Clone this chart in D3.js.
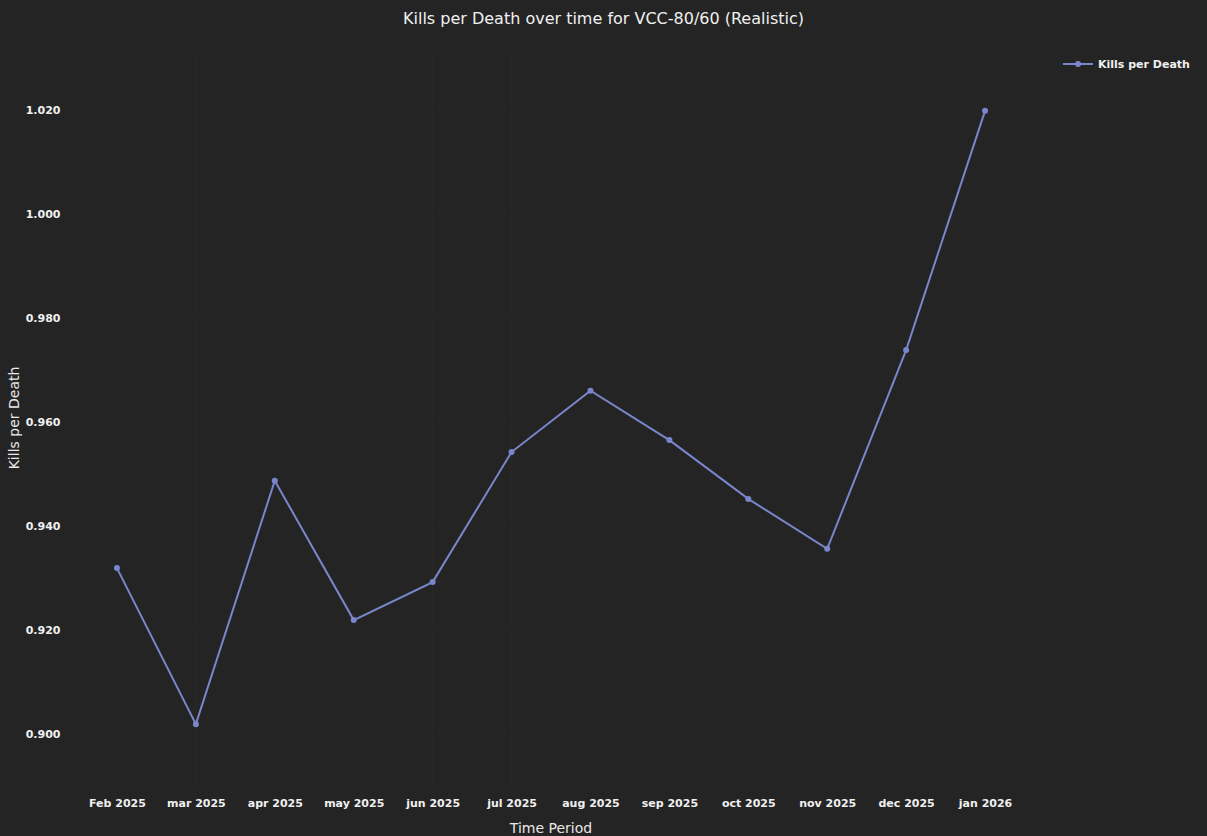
<!DOCTYPE html>
<html>
<head>
<meta charset="utf-8">
<script src="https://cdn.jsdelivr.net/npm/d3@7/dist/d3.min.js"></script>
<style>
  html, body { margin: 0; padding: 0; background: #242424; }
  svg { display: block; }
</style>
</head>
<body>
<svg id="chart" width="1207" height="836"></svg>
<script>
const categories = ["Feb 2025", "mar 2025", "apr 2025", "may 2025", "jun 2025", "jul 2025",
                    "aug 2025", "sep 2025", "oct 2025", "nov 2025", "dec 2025", "jan 2026"];
const killsPerDeath = [0.9319, 0.9019, 0.9487, 0.9219, 0.9292, 0.9542,
                       0.9660, 0.9565, 0.9452, 0.9356, 0.9738, 1.0198];
const yTicks = [0.900, 0.920, 0.940, 0.960, 0.980, 1.000, 1.020];
const titleText = "Kills per Death over time for VCC-80/60 (Realistic)";
const seriesName = "Kills per Death";
const xTitle = "Time Period";
const yTitle = "Kills per Death";

const W = 1207, H = 836;
const plot = { left: 77.5, right: 1024.5, top: 51, bottom: 785 };
const lineColor = "#7986cb";
const font = "'DejaVu Sans', Verdana, sans-serif";

const svg = d3.select("#chart");
svg.append("rect").attr("width", W).attr("height", H).attr("fill", "#242424");

const x = d3.scalePoint().domain(categories).range([plot.left, plot.right]).padding(0.5);
const y = d3.scaleLinear().domain([0.8902, 1.0313]).range([plot.bottom, plot.top]);

// grid
const grid = svg.append("g");
grid.selectAll("line.v").data(categories).enter().append("line")
  .attr("x1", d => x(d)).attr("x2", d => x(d))
  .attr("y1", plot.top).attr("y2", plot.bottom)
  .attr("stroke", "#282828").attr("stroke-width", 1);
grid.selectAll("line.h").data(yTicks).enter().append("line")
  .attr("x1", plot.left).attr("x2", plot.right)
  .attr("y1", d => y(d)).attr("y2", d => y(d))
  .attr("stroke", "#282828").attr("stroke-width", 1);

// axes
const xAxis = svg.append("g")
  .attr("transform", `translate(0,${plot.bottom})`)
  .call(d3.axisBottom(x).tickSize(0).tickPadding(14));
const yAxis = svg.append("g")
  .attr("transform", `translate(${plot.left},0)`)
  .call(d3.axisLeft(y).tickValues(yTicks).tickFormat(d3.format(".3f")).tickSize(0).tickPadding(17));
[xAxis, yAxis].forEach(a => {
  a.select(".domain").remove();
  a.selectAll("text").attr("fill", "#f0f0f0").style("font-family", font)
    .style("font-size", "11px").style("font-weight", "bold");
});

// line
const line = d3.line().x((d, i) => x(categories[i])).y(d => y(d));
svg.append("path").datum(killsPerDeath)
  .attr("d", line).attr("fill", "none")
  .attr("stroke", lineColor).attr("stroke-width", 2);
svg.selectAll("circle.pt").data(killsPerDeath).enter().append("circle")
  .attr("cx", (d, i) => x(categories[i])).attr("cy", d => y(d))
  .attr("r", 3).attr("fill", lineColor);

// title
svg.append("text").attr("x", W / 2).attr("y", 24).attr("text-anchor", "middle")
  .attr("fill", "#f0f0f0").style("font-family", font).style("font-size", "16px")
  .text(titleText);

// axis titles
svg.append("text").attr("x", (plot.left + plot.right) / 2).attr("y", 833)
  .attr("text-anchor", "middle").attr("fill", "#e8e8e8")
  .style("font-family", font).style("font-size", "14px").text(xTitle);
svg.append("text")
  .attr("transform", `translate(19,${(plot.top + plot.bottom) / 2}) rotate(-90)`)
  .attr("text-anchor", "middle").attr("fill", "#e8e8e8")
  .style("font-family", font).style("font-size", "14px").text(yTitle);

// legend
const lg = svg.append("g").attr("transform", "translate(1063,64)");
lg.append("line").attr("x1", 0).attr("x2", 30).attr("y1", 0).attr("y2", 0)
  .attr("stroke", lineColor).attr("stroke-width", 2);
lg.append("circle").attr("cx", 15).attr("cy", 0).attr("r", 3).attr("fill", lineColor);
lg.append("text").attr("x", 35).attr("y", 4).attr("fill", "#f0f0f0")
  .style("font-family", font).style("font-size", "11px").style("font-weight", "bold")
  .text(seriesName);
</script>
</body>
</html>
